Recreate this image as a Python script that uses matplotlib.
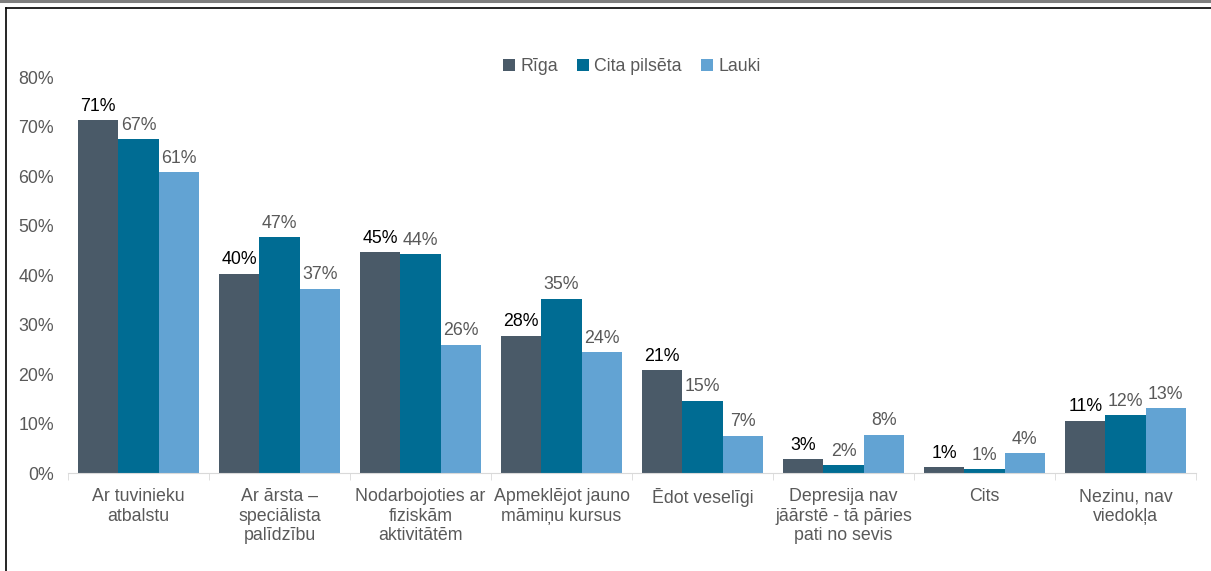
import matplotlib
matplotlib.use("Agg")
import matplotlib.pyplot as plt
from matplotlib.lines import Line2D
import numpy as np

categories = [
    "Ar tuvinieku\natbalstu",
    "Ar ārsta –\nspeciālista\npalīdzību",
    "Nodarbojoties ar\nfiziskām\naktivitātēm",
    "Apmeklējot jauno\nmāmiņu kursus",
    "Ēdot veselīgi",
    "Depresija nav\njāārstē - tā pāries\npati no sevis",
    "Cits",
    "Nezinu, nav\nviedokļa",
]
series_names = ["Rīga", "Cita pilsēta", "Lauki"]
riga = [71.3, 40.2, 44.6, 27.7, 20.8, 2.8, 1.2, 10.5]
cita = [67.4, 47.6, 44.2, 35.2, 14.6, 1.6, 0.8, 11.7]
lauki = [60.8, 37.2, 25.9, 24.4, 7.5, 7.7, 4.0, 13.1]
riga_lbl = [71, 40, 45, 28, 21, 3, 1, 11]
cita_lbl = [67, 47, 44, 35, 15, 2, 1, 12]
lauki_lbl = [61, 37, 26, 24, 7, 8, 4, 13]
colors = ["#4A5A68", "#006C93", "#62A3D3"]
label_colors = ["#000000", "#595959", "#595959"]

plt.rcParams["font.family"] = ["Liberation Sans", "DejaVu Sans"]
FS = 12.8

fig = plt.figure(figsize=(12.11, 5.71), dpi=100)
ax = fig.add_axes([0.0562, 0.1716, 0.9314, 0.6935])

x = np.arange(len(categories))
w = 0.285
data = [riga, cita, lauki]
labels = [riga_lbl, cita_lbl, lauki_lbl]
for i, (vals, lbls) in enumerate(zip(data, labels)):
    pos = x + (i - 1) * w
    bars = ax.bar(pos, vals, width=w, color=colors[i], label=series_names[i])
    ax.bar_label(bars, labels=[f"{v}%" for v in lbls], padding=4,
                 fontsize=FS, color=label_colors[i])

ax.set_xlim(-0.5, len(categories) - 0.5)
ax.set_ylim(0, 80)
ax.set_yticks(range(0, 81, 10))
ax.set_yticklabels([f"{v}%" for v in range(0, 81, 10)])
ax.tick_params(axis="y", length=0, labelsize=FS, labelcolor="#595959", pad=10)

ax.set_xticks(x)
ax.set_xticklabels(categories, fontsize=FS, color="#595959", va="top")
ax.tick_params(axis="x", length=0, pad=11)
ax.set_xticks(np.arange(-0.5, len(categories)), minor=True)
ax.tick_params(axis="x", which="minor", length=5, color="#D9D9D9")

for s in ["top", "right", "left"]:
    ax.spines[s].set_visible(False)
ax.spines["bottom"].set_color("#D9D9D9")

ax.legend(loc="lower center", bbox_to_anchor=(0.5, 0.965), ncol=3, frameon=False,
          fontsize=FS, handlelength=0.65, handleheight=0.65, handletextpad=0.3,
          columnspacing=1.1, labelcolor="#595959")

# outer frame lines
W, H = 1211, 571
fig.add_artist(Line2D([0, 1], [1 - 1 / H, 1 - 1 / H], color="#7F7F7F", lw=2.2))
fig.add_artist(Line2D([6 / W, 1], [1 - 8 / H, 1 - 8 / H], color="#000000", lw=1.2))
fig.add_artist(Line2D([6 / W, 6 / W], [0, 1 - 8 / H], color="#000000", lw=1.2))

fig.savefig("out.png", dpi=100)
